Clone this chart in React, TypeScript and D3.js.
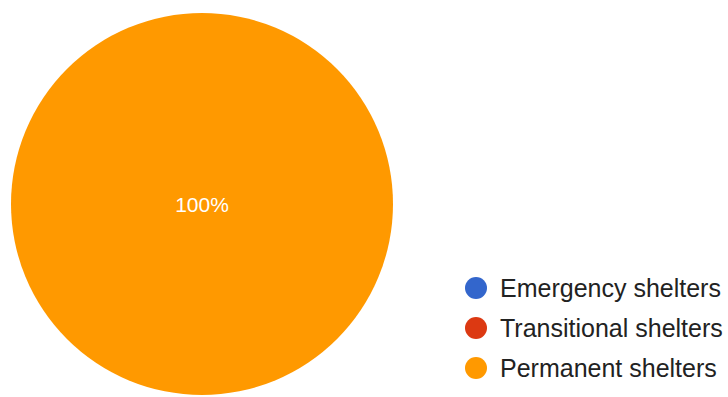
import React from "react";
import * as d3 from "d3";

const categories = ["Emergency shelters", "Transitional shelters", "Permanent shelters"];
const values = [0, 0, 100];
const colors = ["#3366cc", "#dc3912", "#ff9900"];

const W = 728;
const H = 397;
const cx = 202;
const cy = 204;
const R = 191;

export default function App() {
  const total = d3.sum(values);
  const pie = d3.pie<number>().sort(null).value((d) => d);
  const arcs = pie(values);
  const arcGen = d3.arc<d3.PieArcDatum<number>>().innerRadius(0).outerRadius(R);
  const fmt = d3.format(".0%");
  const legendY = d3.scalePoint<string>().domain(categories).range([288, 368]);

  return (
    <svg
      width={W}
      height={H}
      style={{ position: "absolute", left: 0, top: 0, background: "#fff" }}
      fontFamily="Arial, 'Liberation Sans', sans-serif"
    >
      <g transform={`translate(${cx},${cy})`}>
        {arcs.map((a, i) =>
          a.value > 0 ? <path key={i} d={arcGen(a) || ""} fill={colors[i]} /> : null
        )}
        {arcs.map((a, i) => {
          if (a.value <= 0) return null;
          const full = a.endAngle - a.startAngle >= 2 * Math.PI - 1e-6;
          const [lx, ly] = full
            ? [0, 0]
            : d3.arc<d3.PieArcDatum<number>>().innerRadius(R * 0.6).outerRadius(R * 0.6).centroid(a);
          return (
            <text
              key={"l" + i}
              x={lx}
              y={ly}
              textAnchor="middle"
              dominantBaseline="central"
              fill="#ffffff"
              fontSize={21}
            >
              {fmt(a.value / total)}
            </text>
          );
        })}
      </g>
      {categories.map((c, i) => (
        <g key={c} transform={`translate(0,${legendY(c)})`}>
          <circle cx={476} cy={0} r={11} fill={colors[i]} />
          <text x={500} y={0} dominantBaseline="central" fontSize={25} fill="#222222">
            {c}
          </text>
        </g>
      ))}
    </svg>
  );
}
